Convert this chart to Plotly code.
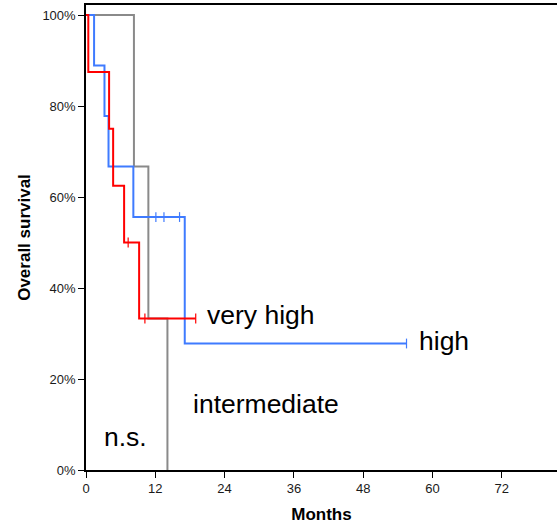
import plotly.graph_objects as go

# Kaplan-Meier step data (months, % surviving)
vh_time = [0, 0.4, 4.0, 4.7, 6.6, 9.2, 19.0]
vh_surv = [100, 87.5, 75, 62.5, 50, 33.3, 33.3]
vh_cens_time = [7.3, 10.2, 19.0]
vh_cens_surv = [50, 33.3, 33.3]

hi_time = [0, 1.4, 3.2, 3.9, 8.2, 17.1, 55.5]
hi_surv = [100, 88.9, 77.8, 66.7, 55.6, 27.8, 27.8]
hi_cens_time = [12.1, 13.5, 16.2, 55.5]
hi_cens_surv = [55.6, 55.6, 55.6, 27.8]

im_time = [0, 8.3, 10.8, 14.1]
im_surv = [100, 66.7, 33.3, 0]

x_ticks = [0, 12, 24, 36, 48, 60, 72]
y_ticks = [0, 20, 40, 60, 80, 100]
y_tick_labels = ["0%", "20%", "40%", "60%", "80%", "100%"]

labels = [("very high", 20.6, 34.1), ("high", 57.3, 28.4),
          ("intermediate", 18.1, 14.5), ("n.s.", 2.8, 7.3)]

GRAY = "#8a8a8a"
BLUE = "#3f7bff"
RED = "#ff0000"
FONT = "Arial, Liberation Sans, sans-serif"

fig = go.Figure()
fig.add_trace(go.Scatter(x=im_time, y=im_surv, mode="lines", line=dict(color=GRAY, width=2, shape="hv")))
fig.add_trace(go.Scatter(x=hi_time, y=hi_surv, mode="lines", line=dict(color=BLUE, width=2, shape="hv")))
fig.add_trace(go.Scatter(x=hi_cens_time, y=hi_cens_surv, mode="markers",
                         marker=dict(symbol="line-ns", size=7, line=dict(color=BLUE, width=1.2))))
fig.add_trace(go.Scatter(x=vh_time, y=vh_surv, mode="lines", line=dict(color=RED, width=2, shape="hv")))
fig.add_trace(go.Scatter(x=vh_cens_time, y=vh_cens_surv, mode="markers",
                         marker=dict(symbol="line-ns", size=7, line=dict(color=RED, width=1.2))))

for txt, x, y in labels:
    fig.add_annotation(x=x, y=y, text=txt, showarrow=False, xanchor="left", yanchor="middle",
                       font=dict(family=FONT, size=26.5, color="black"))

fig.update_layout(
    width=557, height=526,
    margin=dict(l=86, r=0, t=5, b=56),
    plot_bgcolor="white", paper_bgcolor="white",
    showlegend=False,
    font=dict(family=FONT, size=13, color="#1a1a1a"),
)
fig.update_xaxes(range=[0, 81.56], tickvals=x_ticks, ticks="outside", ticklen=6, tickwidth=1.3,
                 tickcolor="black", showline=True, linecolor="black", linewidth=1.5, mirror=True,
                 showgrid=False, zeroline=False, automargin=False,
                 title=dict(text="<b>Months</b>", font=dict(family=FONT, size=17, color="black"), standoff=13))
fig.update_yaxes(range=[0, 102.2], tickvals=y_ticks, ticktext=y_tick_labels, ticks="outside", ticklen=6,
                 tickwidth=1.3, tickcolor="black", showline=True, linecolor="black", linewidth=1.5,
                 showgrid=False, zeroline=False, automargin=False,
                 title=dict(text="<b>Overall survival</b>", font=dict(family=FONT, size=17, color="black"), standoff=7))

fig.write_html("out.html", config={"displayModeBar": False},
               post_script="document.body.style.margin='0';document.body.style.overflow='hidden';")
